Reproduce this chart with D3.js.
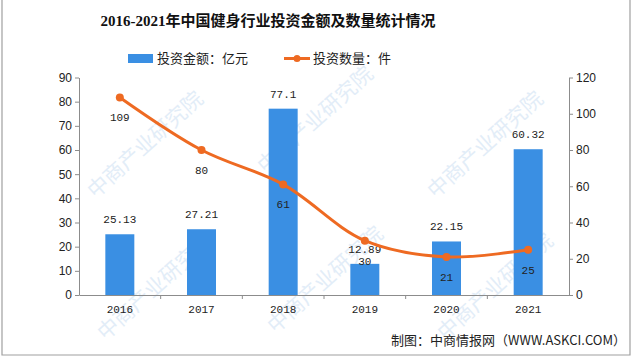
<!DOCTYPE html>
<html><head><meta charset="utf-8">
<script src="https://cdn.jsdelivr.net/npm/d3@7/dist/d3.min.js"></script>
<style>body{margin:0;background:#fff}svg{display:block}</style>
</head><body>
<svg id="c" width="640" height="358"></svg>
<script>
const years = ["2016","2017","2018","2019","2020","2021"];
const amount = [25.13, 27.21, 77.1, 12.89, 22.15, 60.32];
const counts = [109, 80, 61, 30, 21, 25];
const leftTicks = [0,10,20,30,40,50,60,70,80,90];
const rightTicks = [0,20,40,60,80,100,120];
const title = "2016-2021年中国健身行业投资金额及数量统计情况";
const legendBar = "投资金额：亿元";
const legendLine = "投资数量：件";
const source = "制图：中商情报网（WWW.ASKCI.COM）";

const svg = d3.select("#c");
const blue = "#3a8fe3", orange = "#ee6a22", axisC = "#8c8c8c";
const numFont = "'Liberation Mono','DejaVu Sans Mono',monospace";
const cjk = "'Noto Sans CJK SC','Noto Sans',sans-serif";

// watermarks
const wm = [[150,150],[320,125],[490,150],[160,292],[330,285],[500,292]];
wm.forEach(([x,y])=>{
  svg.append("text").attr("transform",`translate(${x},${y}) rotate(-42)`)
    .attr("text-anchor","middle").attr("font-family",cjk).attr("font-size",21)
    .attr("fill","#b9d3ee").attr("opacity",0.4).text("中商产业研究院");
});

// border
svg.append("path").attr("d","M2,0V355H630V0").attr("fill","none").attr("stroke","#a0a0a0").attr("stroke-width",1.2);

const x = d3.scaleBand().domain(years).range([79,569]).padding(0);
const yL = d3.scaleLinear().domain([0,90]).range([295,77.5]);
const yR = d3.scaleLinear().domain([0,120]).range([295,77.5]);

// axes
const gl = svg.append("g").attr("transform","translate(79,0)")
  .call(d3.axisLeft(yL).tickValues(leftTicks).tickSize(4).tickSizeOuter(0));
const gr = svg.append("g").attr("transform","translate(569,0)")
  .call(d3.axisRight(yR).tickValues(rightTicks).tickSize(4).tickSizeOuter(0));
[gl,gr].forEach(g=>{
  g.selectAll("path,line").attr("stroke",axisC);
  g.selectAll("text").attr("font-family","'Liberation Sans',Arial,sans-serif").attr("font-size",12).attr("fill","#222");
});
// x axis
const gx = svg.append("g").attr("transform","translate(0,295)")
  .call(d3.axisBottom(x).tickSize(0).tickSizeOuter(0));
gx.select("path").attr("stroke",axisC);
gx.selectAll("text").attr("font-family",numFont).attr("font-size",11).attr("fill","#222").attr("dy","1.35em");
svg.append("g").selectAll("line").data(years.slice(1)).join("line")
  .attr("x1",d=>x(d)).attr("x2",d=>x(d)).attr("y1",295).attr("y2",299).attr("stroke",axisC);

// bars
const bw = x.bandwidth()*0.355;
svg.append("g").selectAll("rect").data(years).join("rect")
  .attr("x",(d)=>x(d)+x.bandwidth()/2-bw/2).attr("width",bw)
  .attr("y",(d,i)=>yL(amount[i])).attr("height",(d,i)=>yL(0)-yL(amount[i]))
  .attr("fill",blue);
svg.append("g").selectAll("text").data(years).join("text")
  .attr("x",d=>x(d)+x.bandwidth()/2).attr("y",(d,i)=>yL(amount[i])-11)
  .attr("text-anchor","middle").attr("font-family",numFont).attr("font-size",11).attr("fill","#222")
  .text((d,i)=>amount[i]);

// line
const pts = years.map((d,i)=>[x(d)+x.bandwidth()/2, yR(counts[i])]);
svg.append("path").attr("d",d3.line().curve(d3.curveCatmullRom.alpha(0.5))(pts))
  .attr("fill","none").attr("stroke",orange).attr("stroke-width",3);
svg.append("g").selectAll("circle").data(pts).join("circle")
  .attr("cx",d=>d[0]).attr("cy",d=>d[1]).attr("r",4).attr("fill",orange);
svg.append("g").selectAll("text").data(years).join("text")
  .attr("x",d=>x(d)+x.bandwidth()/2).attr("y",(d,i)=>yR(counts[i])+24)
  .attr("text-anchor","middle").attr("font-family",numFont).attr("font-size",11).attr("fill","#222")
  .text((d,i)=>counts[i]);

// title
svg.append("text").attr("x",268).attr("y",26).attr("text-anchor","middle")
  .attr("font-family","'Liberation Serif','Noto Sans CJK SC',serif").attr("font-weight","bold")
  .attr("font-size",15).attr("fill","#111").text(title);

// legend
svg.append("rect").attr("x",128).attr("y",54).attr("width",25).attr("height",9).attr("fill",blue);
svg.append("text").attr("x",157).attr("y",63).attr("font-family",cjk).attr("font-size",13).attr("fill","#222").text(legendBar);
svg.append("line").attr("x1",284).attr("x2",310).attr("y1",58.5).attr("y2",58.5).attr("stroke",orange).attr("stroke-width",3);
svg.append("circle").attr("cx",297).attr("cy",58.5).attr("r",3.5).attr("fill",orange);
svg.append("text").attr("x",313).attr("y",63).attr("font-family",cjk).attr("font-size",13).attr("fill","#222").text(legendLine);

// source
svg.append("text").attr("x",626).attr("y",345).attr("text-anchor","end").attr("font-family",cjk)
  .attr("font-size",13).attr("fill","#222").text(source);
</script>
</body></html>
